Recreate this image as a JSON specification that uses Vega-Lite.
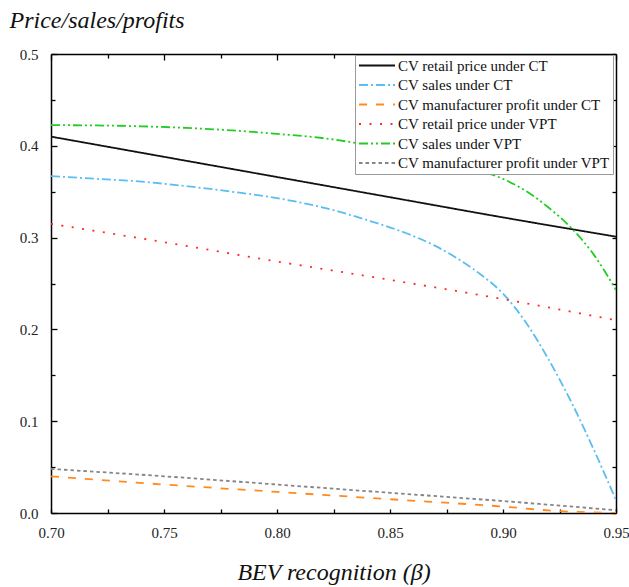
{
  "$schema": "https://vega.github.io/schema/vega-lite/v6.json",
  "width": 565,
  "height": 459,
  "autosize": {"type": "none"},
  "padding": {"left": 51, "top": 54, "right": 13, "bottom": 74},
  "background": "white",
  "config": {
    "view": {"stroke": null},
    "font": "Liberation Serif"
  },
  "datasets": {
    "curves": [
      {"x": 0.70, "y": 0.410, "series": "CV retail price under CT"},
      {"x": 0.75, "y": 0.388, "series": "CV retail price under CT"},
      {"x": 0.80, "y": 0.366, "series": "CV retail price under CT"},
      {"x": 0.85, "y": 0.344, "series": "CV retail price under CT"},
      {"x": 0.90, "y": 0.322, "series": "CV retail price under CT"},
      {"x": 0.95, "y": 0.301, "series": "CV retail price under CT"},

      {"x": 0.70, "y": 0.367, "series": "CV sales under CT"},
      {"x": 0.72, "y": 0.364, "series": "CV sales under CT"},
      {"x": 0.74, "y": 0.361, "series": "CV sales under CT"},
      {"x": 0.76, "y": 0.356, "series": "CV sales under CT"},
      {"x": 0.78, "y": 0.350, "series": "CV sales under CT"},
      {"x": 0.80, "y": 0.343, "series": "CV sales under CT"},
      {"x": 0.82, "y": 0.333, "series": "CV sales under CT"},
      {"x": 0.84, "y": 0.319, "series": "CV sales under CT"},
      {"x": 0.86, "y": 0.302, "series": "CV sales under CT"},
      {"x": 0.87, "y": 0.291, "series": "CV sales under CT"},
      {"x": 0.88, "y": 0.277, "series": "CV sales under CT"},
      {"x": 0.89, "y": 0.260, "series": "CV sales under CT"},
      {"x": 0.90, "y": 0.239, "series": "CV sales under CT"},
      {"x": 0.91, "y": 0.208, "series": "CV sales under CT"},
      {"x": 0.92, "y": 0.168, "series": "CV sales under CT"},
      {"x": 0.93, "y": 0.122, "series": "CV sales under CT"},
      {"x": 0.94, "y": 0.070, "series": "CV sales under CT"},
      {"x": 0.95, "y": 0.014, "series": "CV sales under CT"},

      {"x": 0.70, "y": 0.040, "series": "CV manufacturer profit under CT"},
      {"x": 0.75, "y": 0.031, "series": "CV manufacturer profit under CT"},
      {"x": 0.80, "y": 0.023, "series": "CV manufacturer profit under CT"},
      {"x": 0.85, "y": 0.015, "series": "CV manufacturer profit under CT"},
      {"x": 0.90, "y": 0.007, "series": "CV manufacturer profit under CT"},
      {"x": 0.925, "y": 0.002, "series": "CV manufacturer profit under CT"},
      {"x": 0.95, "y": 0.000, "series": "CV manufacturer profit under CT"},

      {"x": 0.70, "y": 0.315, "series": "CV retail price under VPT"},
      {"x": 0.75, "y": 0.295, "series": "CV retail price under VPT"},
      {"x": 0.80, "y": 0.274, "series": "CV retail price under VPT"},
      {"x": 0.85, "y": 0.254, "series": "CV retail price under VPT"},
      {"x": 0.90, "y": 0.233, "series": "CV retail price under VPT"},
      {"x": 0.95, "y": 0.210, "series": "CV retail price under VPT"},

      {"x": 0.70, "y": 0.4225, "series": "CV sales under VPT"},
      {"x": 0.72, "y": 0.4222, "series": "CV sales under VPT"},
      {"x": 0.74, "y": 0.4212, "series": "CV sales under VPT"},
      {"x": 0.76, "y": 0.4195, "series": "CV sales under VPT"},
      {"x": 0.78, "y": 0.4168, "series": "CV sales under VPT"},
      {"x": 0.80, "y": 0.4130, "series": "CV sales under VPT"},
      {"x": 0.82, "y": 0.4085, "series": "CV sales under VPT"},
      {"x": 0.84, "y": 0.4010, "series": "CV sales under VPT"},
      {"x": 0.86, "y": 0.3920, "series": "CV sales under VPT"},
      {"x": 0.88, "y": 0.3810, "series": "CV sales under VPT"},
      {"x": 0.89, "y": 0.3730, "series": "CV sales under VPT"},
      {"x": 0.90, "y": 0.3640, "series": "CV sales under VPT"},
      {"x": 0.91, "y": 0.3510, "series": "CV sales under VPT"},
      {"x": 0.92, "y": 0.3330, "series": "CV sales under VPT"},
      {"x": 0.93, "y": 0.3110, "series": "CV sales under VPT"},
      {"x": 0.94, "y": 0.2820, "series": "CV sales under VPT"},
      {"x": 0.95, "y": 0.2430, "series": "CV sales under VPT"},

      {"x": 0.70, "y": 0.048, "series": "CV manufacturer profit under VPT"},
      {"x": 0.75, "y": 0.040, "series": "CV manufacturer profit under VPT"},
      {"x": 0.80, "y": 0.031, "series": "CV manufacturer profit under VPT"},
      {"x": 0.85, "y": 0.022, "series": "CV manufacturer profit under VPT"},
      {"x": 0.90, "y": 0.013, "series": "CV manufacturer profit under VPT"},
      {"x": 0.95, "y": 0.003, "series": "CV manufacturer profit under VPT"}
    ]
  },
  "data": {"name": "curves"},
  "layer": [
    {
      "mark": {"type": "line", "strokeWidth": 1.8, "interpolate": "monotone", "clip": true},
      "encoding": {
        "x": {
          "field": "x", "type": "quantitative",
          "scale": {"domain": [0.7, 0.95], "nice": false, "zero": false},
          "axis": {
            "orient": "bottom",
            "values": [0.70, 0.75, 0.80, 0.85, 0.90, 0.95],
            "format": ".2f",
            "ticks": false,
            "grid": true, "gridColor": "black", "gridWidth": 1.3, "gridOpacity": 1, "gridDash": [6, 2000],
            "domain": true, "domainColor": "black", "domainWidth": 1.5,
            "labelFont": "Liberation Serif", "labelFontSize": 15, "labelColor": "#222",
            "labelFlush": false, "labelPadding": 12,
            "title": "BEV recognition (β)",
            "titleFont": "Liberation Serif", "titleFontStyle": "italic", "titleFontWeight": "normal",
            "titleFontSize": 24, "titleColor": "#111",
            "titleY": 66, "titleBaseline": "alphabetic"
          }
        },
        "y": {
          "field": "y", "type": "quantitative",
          "scale": {"domain": [0, 0.5], "nice": false},
          "axis": {
            "orient": "left",
            "values": [0, 0.1, 0.2, 0.3, 0.4, 0.5],
            "format": ".1f",
            "ticks": false,
            "grid": true, "gridColor": "black", "gridWidth": 1.3, "gridOpacity": 1, "gridDash": [6, 2000],
            "domain": true, "domainColor": "black", "domainWidth": 1.5,
            "labelFont": "Liberation Serif", "labelFontSize": 15, "labelColor": "#222",
            "labelFlush": false, "labelPadding": 13,
            "title": "Price/sales/profits",
            "titleFont": "Liberation Serif", "titleFontStyle": "italic", "titleFontWeight": "normal",
            "titleFontSize": 24, "titleColor": "#111",
            "titleAngle": 0, "titleAlign": "left", "titleBaseline": "alphabetic",
            "titleX": -42, "titleY": -27
          }
        },
        "color": {
          "field": "series", "type": "nominal",
          "scale": {
            "domain": ["CV retail price under CT", "CV sales under CT", "CV manufacturer profit under CT", "CV retail price under VPT", "CV sales under VPT", "CV manufacturer profit under VPT"],
            "range": ["#111111", "#5BBDF2", "#FF8A1F", "#FF2A2A", "#22CC22", "#858585"]
          },
          "legend": {
            "orient": "none", "legendX": 304, "legendY": 1,
            "title": null,
            "symbolType": "stroke", "symbolSize": 1296, "symbolStrokeWidth": 1.8,
            "clipHeight": 15,
            "labelFont": "Liberation Serif", "labelFontSize": 15, "labelColor": "#111", "labelLimit": 0,
            "labelOffset": 2,
            "strokeColor": "#999999", "fillColor": "white", "padding": 3, "rowPadding": 3.5
          }
        },
        "strokeDash": {
          "field": "series", "type": "nominal",
          "scale": {
            "domain": ["CV retail price under CT", "CV sales under CT", "CV manufacturer profit under CT", "CV retail price under VPT", "CV sales under VPT", "CV manufacturer profit under VPT"],
            "range": [[1, 0], [9, 3, 2, 3], [8, 9], [2, 8.5], [9, 3, 2, 3, 2, 3], [3.5, 3]]
          },
          "legend": {
            "orient": "none", "legendX": 304, "legendY": 1,
            "title": null,
            "symbolType": "stroke", "symbolSize": 1296, "symbolStrokeWidth": 1.8,
            "clipHeight": 15,
            "labelFont": "Liberation Serif", "labelFontSize": 15, "labelColor": "#111", "labelLimit": 0,
            "labelOffset": 2,
            "strokeColor": "#999999", "fillColor": "white", "padding": 3, "rowPadding": 3.5
          }
        }
      }
    },
    {
      "mark": {"type": "point", "opacity": 0},
      "encoding": {
        "x": {
          "field": "x", "type": "quantitative",
          "axis": {
            "orient": "bottom",
            "values": [0.725, 0.775, 0.825, 0.875, 0.925],
            "labels": false, "domain": false, "ticks": false, "title": null,
            "grid": true, "gridColor": "black", "gridWidth": 1.3, "gridOpacity": 1, "gridDash": [4, 2000]
          }
        },
        "y": {
          "field": "y", "type": "quantitative",
          "axis": {
            "orient": "left",
            "values": [0.05, 0.15, 0.25, 0.35, 0.45],
            "labels": false, "domain": false, "ticks": false, "title": null,
            "grid": true, "gridColor": "black", "gridWidth": 1.3, "gridOpacity": 1, "gridDash": [4, 2000]
          }
        }
      }
    },
    {
      "mark": {"type": "point", "opacity": 0},
      "encoding": {
        "x": {
          "field": "x", "type": "quantitative",
          "axis": {
            "orient": "top",
            "values": [0.70, 0.725, 0.75, 0.775, 0.80, 0.825, 0.85, 0.875, 0.90, 0.925, 0.95],
            "labels": false, "ticks": false, "title": null,
            "domain": true, "domainColor": "black", "domainWidth": 1.5,
            "grid": true, "gridColor": "black", "gridWidth": 1.3, "gridOpacity": 1, "gridDash": [4, 2000]
          }
        },
        "y": {
          "field": "y", "type": "quantitative",
          "axis": {
            "orient": "right",
            "values": [0, 0.05, 0.1, 0.15, 0.2, 0.25, 0.3, 0.35, 0.4, 0.45, 0.5],
            "labels": false, "ticks": false, "title": null,
            "domain": true, "domainColor": "black", "domainWidth": 1.5,
            "grid": true, "gridColor": "black", "gridWidth": 1.3, "gridOpacity": 1, "gridDash": [4, 2000]
          }
        }
      }
    }
  ],
  "resolve": {"axis": {"x": "independent", "y": "independent"}}
}
